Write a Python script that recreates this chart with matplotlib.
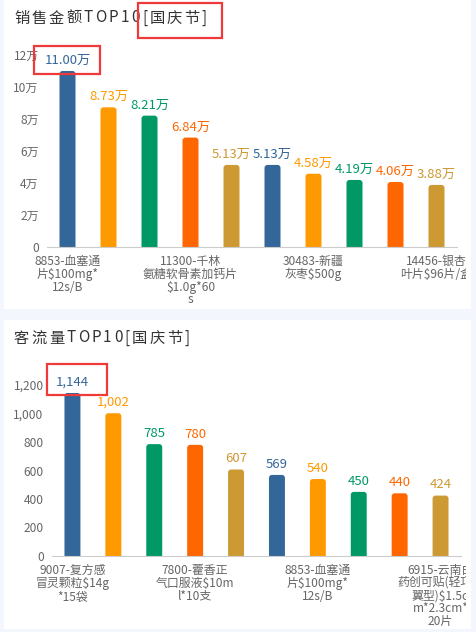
import matplotlib
matplotlib.use("Agg")
import matplotlib.pyplot as plt
from matplotlib.patches import Rectangle, FancyBboxPatch
from matplotlib.transforms import Bbox, TransformedBbox

plt.rcParams['font.family'] = ['Noto Sans CJK SC', 'DejaVu Sans']

W, H = 476, 632

# 数据
colors = ["#336699", "#ff9900", "#009966", "#ff6600", "#cc9933"]

sales_labels = ["8853-血塞通\n片$100mg*\n12s/B", "", "",
                "11300-千林\n氨糖软骨素加钙片\n$1.0g*60\ns", "", "",
                "30483-新疆\n灰枣$500g", "", "",
                "14456-银杏\n叶片$96片/盒"]
sales_values = [11.00, 8.73, 8.21, 6.84, 5.13, 5.13, 4.58, 4.19, 4.06, 3.88]  # 万
sales_ticks = [0, 2, 4, 6, 8, 10, 12]

flow_labels = ["9007-复方感\n冒灵颗粒$14g\n*15袋", "", "",
               "7800-藿香正\n气口服液$10m\nl*10支", "", "",
               "8853-血塞通\n片$100mg*\n12s/B", "", "",
               "6915-云南白\n药创可贴(轻巧护\n翼型)$1.5c\nm*2.3cm*\n20片"]
flow_values = [1144, 1002, 785, 780, 607, 569, 540, 450, 440, 424]
flow_ticks = [0, 200, 400, 600, 800, 1000, 1200]


def fx(x):
    return x / W


def fy(y):
    return 1 - y / H


fig = plt.figure(figsize=(W / 100, H / 100), dpi=100)
fig.patch.set_facecolor("#f3f6fc")

# 白色卡片
for top, bottom in [(0, 309), (320, 629)]:
    fig.patches.append(Rectangle((fx(4), fy(bottom)), fx(471) - fx(4), fy(top) - fy(bottom),
                                 transform=fig.transFigure, facecolor="white",
                                 edgecolor="none", zorder=-5))


def spaced_title(text, x, y, spacing=2.2):
    renderer = fig.canvas.get_renderer()
    for ch in text:
        t = fig.text(fx(x), fy(y), ch, fontsize=11, color="#333333", va="center", ha="left")
        x += t.get_window_extent(renderer).width + spacing


def draw_chart(box, values, labels, ticks, tick_fmt, val_fmt, title, title_y):
    left, right, bottom, top = box
    ax = fig.add_axes([fx(left), fy(bottom), (right - left) / W, (bottom - top) / H])
    ax.patch.set_alpha(0)
    x = list(range(len(values)))
    bars = ax.bar(x, values, width=0.39, color=[colors[i % 5] for i in x])
    ax.set_xlim(-0.5, len(values) - 0.5)
    ax.set_ylim(ticks[0], ticks[-1])

    # 圆角柱子
    ux = (len(values)) / (right - left)
    uy = (ticks[-1] - ticks[0]) / (bottom - top)
    r = 3
    for b, c in zip(bars, [colors[i % 5] for i in x]):
        b.set_visible(False)
        p = FancyBboxPatch((b.get_x(), -r * uy), b.get_width(), b.get_height() + r * uy,
                           boxstyle=f"round,pad=0,rounding_size={r * ux}",
                           mutation_aspect=uy / ux, facecolor=c, edgecolor="none")
        ax.add_patch(p)
        ax.annotate(val_fmt(b.get_height()), (b.get_x() + b.get_width() / 2, b.get_height()),
                    xytext=(0, 3), textcoords="offset points", ha="center", va="bottom",
                    fontsize=9.5, color=c, annotation_clip=False)

    for s in ["top", "right", "left"]:
        ax.spines[s].set_visible(False)
    ax.spines["bottom"].set_color("#cccccc")
    ax.set_yticks(ticks)
    ax.set_yticklabels([tick_fmt(t) for t in ticks])
    ax.tick_params(axis="y", length=0, pad=6, labelsize=8.6, labelcolor="#666666")
    ax.set_xticks([])

    clip = TransformedBbox(Bbox([[fx(4), fy(632)], [fx(466), fy(0)]]), fig.transFigure)
    for i, lab in enumerate(labels):
        if lab:
            t = ax.text(i, -8 / (bottom - top), lab, transform=ax.get_xaxis_transform(),
                        ha="center", va="top", fontsize=8.6, color="#666666",
                        linespacing=0.98, clip_on=True)
            t.set_clip_box(clip)

    spaced_title(title, 14, title_y)
    return ax


draw_chart((47, 457, 247, 55), sales_values, sales_labels, sales_ticks,
           lambda t: "0" if t == 0 else f"{t}万", lambda v: f"{v:.2f}万",
           "销售金额TOP10[国庆节]", 18)
draw_chart((52, 461, 556, 385), flow_values, flow_labels, flow_ticks,
           lambda t: f"{t:,}", lambda v: f"{int(v):,}",
           "客流量TOP10[国庆节]", 338)

# 红色标注框
for x0, y0, x1, y1 in [(138, 3, 222, 38), (34, 46, 100, 74), (47, 364, 107, 395)]:
    fig.patches.append(Rectangle((fx(x0), fy(y1)), fx(x1) - fx(x0), fy(y0) - fy(y1),
                                 transform=fig.transFigure, facecolor="none",
                                 edgecolor="#f03a3a", linewidth=1.6, zorder=10))

fig.savefig("out.png", dpi=100, facecolor=fig.get_facecolor())
